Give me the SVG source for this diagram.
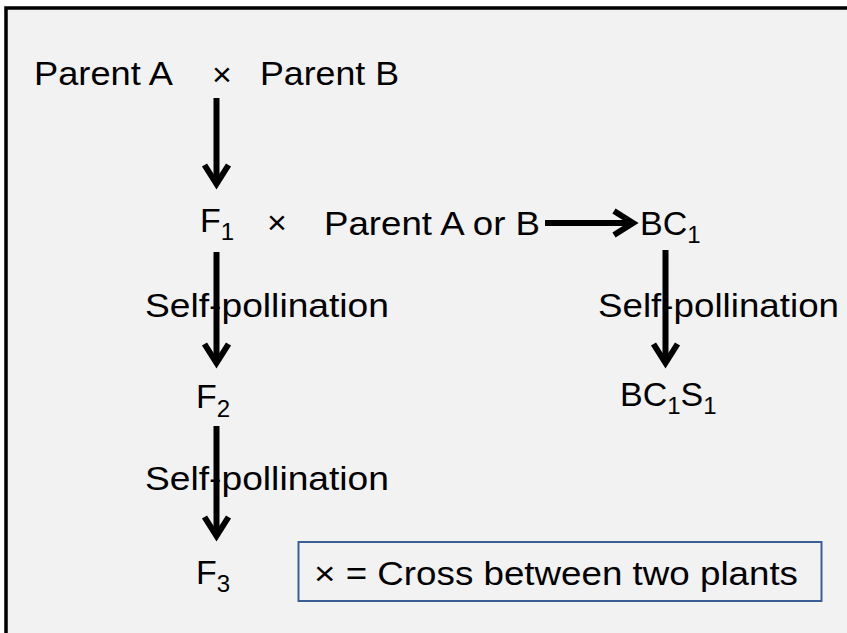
<svg xmlns="http://www.w3.org/2000/svg" width="847" height="633" viewBox="0 0 847 633">
<defs>
<style>
text{font-family:"Liberation Sans",Arial,sans-serif;fill:#000;font-size:34px}
.sub{font-size:24px}
.conn line{stroke:#000;stroke-width:6}
</style>
<marker id="ah" markerUnits="userSpaceOnUse" markerWidth="50" markerHeight="50" viewBox="-30 -25 50 50" refX="0" refY="0" orient="auto">
<path d="M-19,-12 L0,0 L-19,12" fill="none" stroke="#000" stroke-width="6" stroke-miterlimit="10"/>
</marker>
</defs>
<rect x="0" y="0" width="847" height="633" fill="#fff"/>
<rect x="6" y="8" width="900" height="700" fill="#f2f2f2" stroke="#000" stroke-width="3.5"/>
<g id="connectors" class="conn">
<line x1="216.5" y1="98" x2="216.5" y2="184" marker-end="url(#ah)"/>
<line x1="216.5" y1="252" x2="216.5" y2="363" marker-end="url(#ah)"/>
<line x1="216.5" y1="426" x2="216.5" y2="536" marker-end="url(#ah)"/>
<line x1="545" y1="223" x2="633" y2="223" marker-end="url(#ah)"/>
<line x1="665.5" y1="250" x2="665.5" y2="363" marker-end="url(#ah)"/>
</g>
<g id="parentA"><text x="34" y="85" textLength="139" lengthAdjust="spacingAndGlyphs">Parent A</text></g>
<g id="cross1"><text x="212" y="86">×</text></g>
<g id="parentB"><text x="260" y="85" textLength="139" lengthAdjust="spacingAndGlyphs">Parent B</text></g>
<g id="F1"><text x="200" y="232">F<tspan class="sub" dy="8">1</tspan></text></g>
<g id="cross2"><text x="267" y="234">×</text></g>
<g id="parentAorB"><text x="324" y="235" textLength="216" lengthAdjust="spacingAndGlyphs">Parent A or B</text></g>
<g id="BC1"><text x="640" y="235">BC<tspan class="sub" dy="8">1</tspan></text></g>
<g id="self1"><text x="145" y="317" textLength="244" lengthAdjust="spacingAndGlyphs">Self-pollination</text></g>
<g id="self3"><text x="598" y="317" textLength="241" lengthAdjust="spacingAndGlyphs">Self-pollination</text></g>
<g id="F2"><text x="196" y="408">F<tspan class="sub" dy="9">2</tspan></text></g>
<g id="BC1S1"><text x="620" y="406">BC<tspan class="sub" dy="8">1</tspan><tspan dy="-8">S</tspan><tspan class="sub" dy="8">1</tspan></text></g>
<g id="self2"><text x="145" y="490" textLength="244" lengthAdjust="spacingAndGlyphs">Self-pollination</text></g>
<g id="F3"><text x="196" y="584">F<tspan class="sub" dy="8">3</tspan></text></g>
<g id="legend">
<rect x="298.5" y="542" width="523" height="59" fill="none" stroke="#3a5f94" stroke-width="2"/>
<text x="314" y="585" textLength="484" lengthAdjust="spacingAndGlyphs">× = Cross between two plants</text>
</g>
</svg>
